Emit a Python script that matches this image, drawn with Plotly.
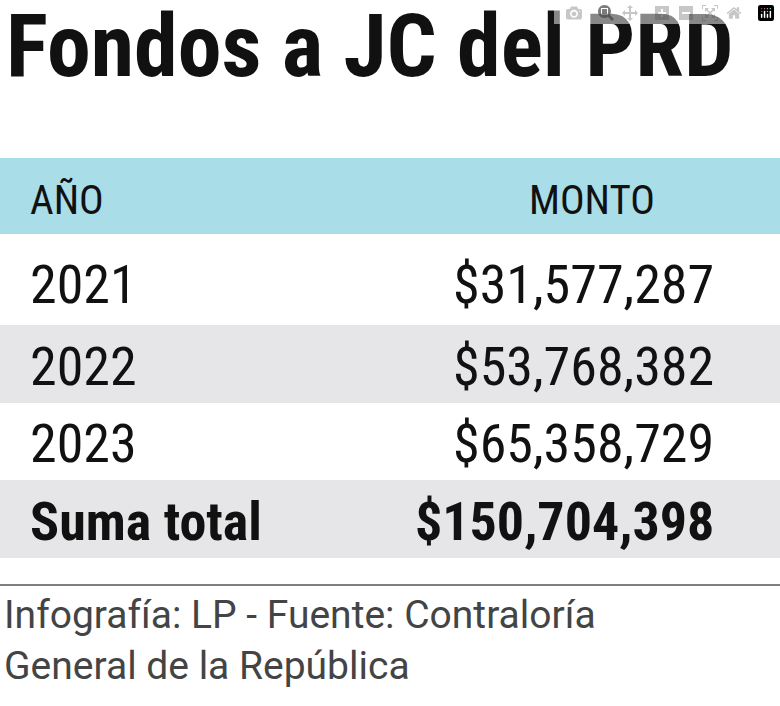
import plotly.graph_objects as go

title = "Fondos a JC del PRD"
headers = ["AÑO", "MONTO"]
years = ["2021", "2022", "2023"]
amounts = ["$31,577,287", "$53,768,382", "$65,358,729"]
total_label = "Suma total"
total_value = "$150,704,398"
source = "Infografía: LP - Fuente: Contraloría<br>General de la República"

COND = "Liberation Sans Narrow, Roboto Condensed, DejaVu Sans Condensed, Roboto"
fig = go.Figure()
shapes = []
ann = []
W, H = 780, 706
shapes.append(dict(type="rect", x0=0, x1=W, y0=158, y1=234, fillcolor="#a9dde7", line_width=0))
ann.append(dict(x=28, y=200, text=headers[0], xanchor="left", font=dict(size=41, family=COND, color="#111")))
ann.append(dict(x=592, y=200, text=headers[1], xanchor="center", font=dict(size=41, family=COND, color="#111")))
rows = [(234, 325), (325, 403), (403, 480)]
for i, (y, a) in enumerate(zip(years, amounts)):
    y0, y1 = rows[i]
    if i % 2 == 1:
        shapes.append(dict(type="rect", x0=0, x1=W, y0=y0, y1=y1, fillcolor="#e6e6e8", line_width=0))
    yc = (y0 + y1) / 2 + (5 if i == 0 else 2)
    ann.append(dict(x=28, y=yc, text=y, xanchor="left", font=dict(size=54, family=COND, color="#111")))
    ann.append(dict(x=716, y=yc, text=a, xanchor="right", font=dict(size=54, family=COND, color="#111")))
shapes.append(dict(type="rect", x0=0, x1=W, y0=480, y1=558, fillcolor="#e6e6e8", line_width=0))
ann.append(dict(x=28, y=521, text="<b>%s</b>" % total_label, xanchor="left", font=dict(size=54, family=COND, color="#111")))
ann.append(dict(x=716, y=521, text="<b>%s</b>" % total_value, xanchor="right", font=dict(size=54, family=COND, color="#111")))
shapes.append(dict(type="line", x0=0, x1=W, y0=585, y1=585, line=dict(color="#555", width=1.5)))
ann.append(dict(x=2, y=640, text=source, xanchor="left", align="left", font=dict(size=39, family="Roboto", color="#444")))
ann.append(dict(x=4, y=45, text="<b>%s</b>" % title, xanchor="left", font=dict(size=88, family=COND, color="#111")))
for a in ann:
    a.update(xref="x", yref="y", showarrow=False, yanchor="middle")
for s in shapes:
    s.update(xref="x", yref="y", layer="below")
fig.update_layout(width=W, height=H, margin=dict(l=0, r=0, t=0, b=0),
                  plot_bgcolor="white", paper_bgcolor="white",
                  xaxis=dict(range=[0, W], visible=False),
                  yaxis=dict(range=[H, 0], visible=False),
                  shapes=shapes, annotations=ann, showlegend=False)
fig.write_html("out.html", post_script="document.body.style.margin='0';document.body.style.overflow='hidden';")
